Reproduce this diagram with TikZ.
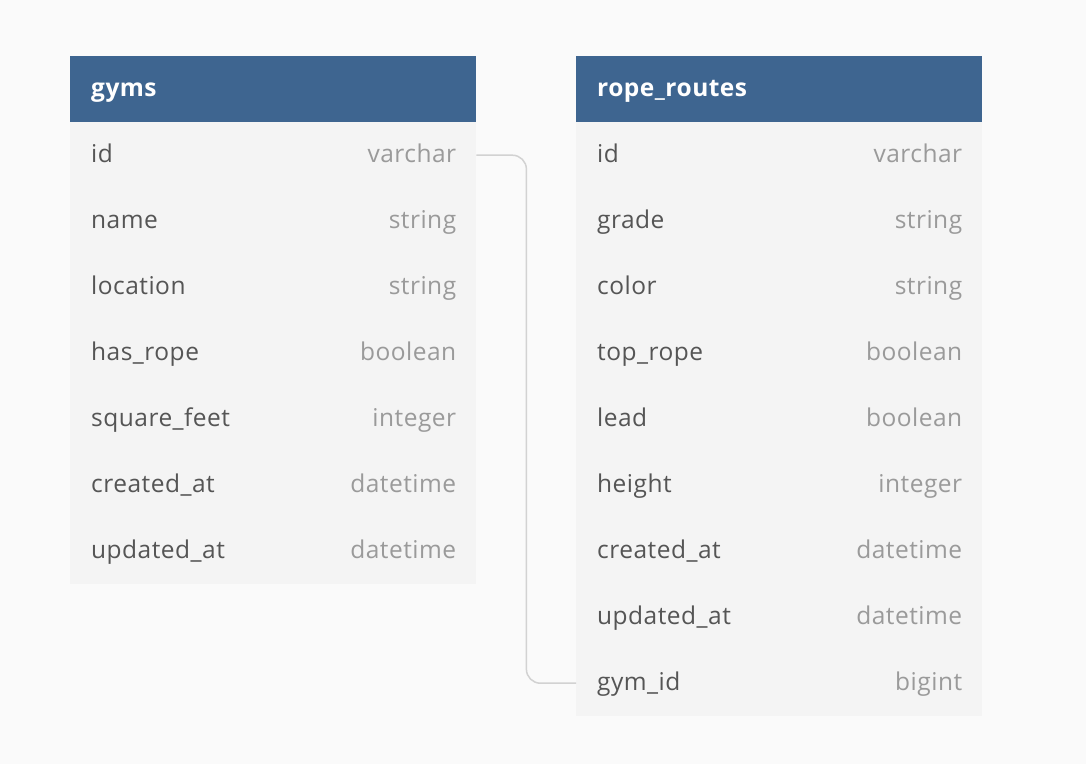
\documentclass[tikz,border=0pt]{standalone}
\usepackage{fontspec}
\setmainfont[LetterSpace=2]{Open Sans}
\definecolor{pagebg}{HTML}{FAFAFA}
\definecolor{bodybg}{HTML}{F4F4F4}
\definecolor{headbg}{HTML}{3E6590}
\definecolor{fieldtxt}{HTML}{555555}
\definecolor{typetxt}{HTML}{9A9A9A}
\definecolor{linkline}{HTML}{D2D2D2}
\tikzset{
  x=1pt, y=-1pt,
  tablehead/.style={fill=headbg, draw=none, minimum width=406pt, minimum height=66pt,
    anchor=north west, inner sep=0pt},
  tablerow/.style={fill=bodybg, draw=none, minimum width=406pt, minimum height=66pt,
    anchor=north west, inner sep=0pt},
  headtxt/.style={anchor=base west, text=white, font=\fontsize{24.5}{28}\selectfont\bfseries, inner sep=0pt},
  fieldname/.style={anchor=base west, text=fieldtxt, font=\fontsize{24.5}{28}\selectfont, inner sep=0pt},
  fieldtype/.style={anchor=base east, text=typetxt, font=\fontsize{24.5}{28}\selectfont, inner sep=0pt},
  link/.style={draw=linkline, line width=1.5pt, rounded corners=14pt}
}
% one table: #1 prefix, #2 left x, #3 title, #4 list of name/type
\newcommand{\erdtable}[4]{%
  \node[tablehead] (#1-head) at (#2,56) {};
  \node[headtxt] at ([xshift=21pt,yshift=-7pt]#1-head.west) {#3};
  \foreach \fname/\ftype [count=\i] in {#4} {
    \node[tablerow] (#1-\i) at (#2,{56+66*\i}) {};
    \node[fieldname] at ([xshift=21pt,yshift=-7pt]#1-\i.west) {\fname};
    \node[fieldtype] at ([xshift=-20pt,yshift=-7pt]#1-\i.east) {\ftype};
  }%
}
\begin{document}
\begin{tikzpicture}
\fill[pagebg] (0,0) rectangle (1086,764);
\useasboundingbox (0,0) rectangle (1086,764);
\erdtable{g}{70}{gyms}{id/varchar, name/string, location/string, has\_rope/boolean,
  square\_feet/integer, created\_at/datetime, updated\_at/datetime}
\erdtable{r}{576}{rope\_routes}{id/varchar, grade/string, color/string, top\_rope/boolean,
  lead/boolean, height/integer, created\_at/datetime, updated\_at/datetime, gym\_id/bigint}
% relation gyms.id -- rope_routes.gym_id
\draw[link] (g-1.east) -- ++(50,0) |- (r-9.west);
\end{tikzpicture}
\end{document}
